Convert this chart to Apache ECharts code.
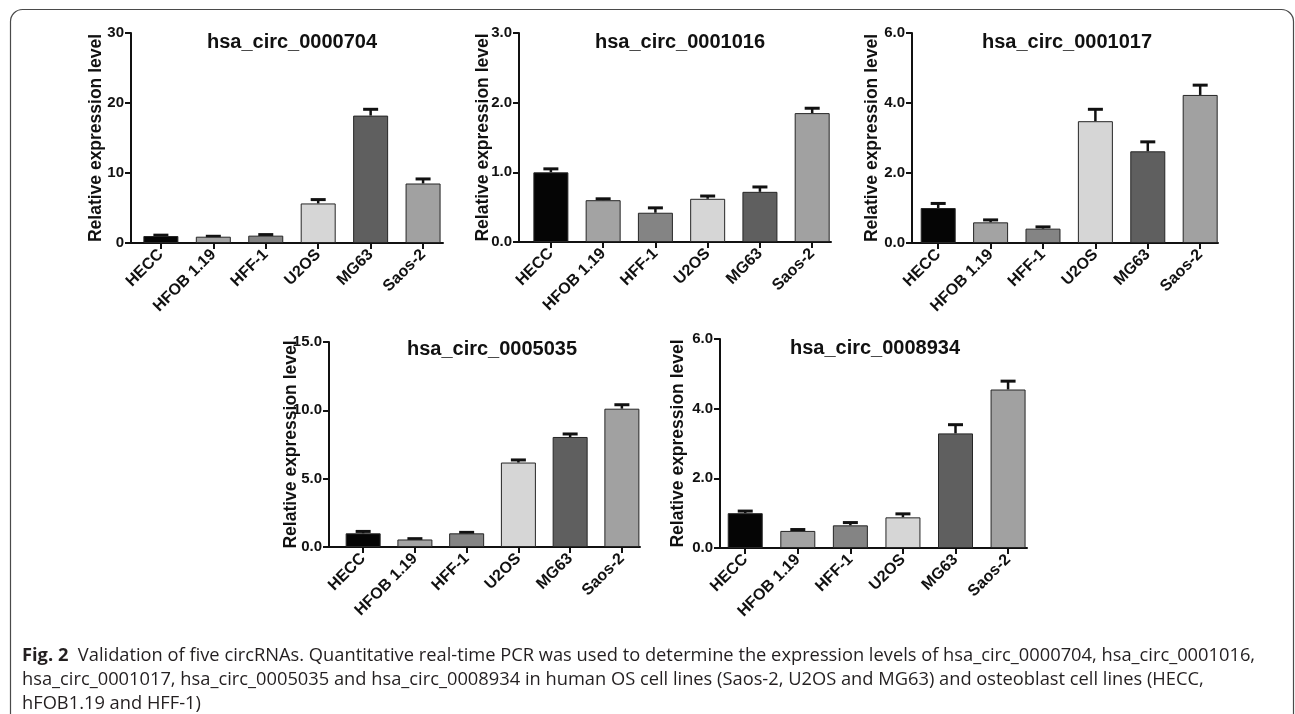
<!DOCTYPE html>
<html>
<head>
<meta charset="utf-8">
<script src="https://cdn.jsdelivr.net/npm/echarts@6/dist/echarts.min.js"></script>
<style>
  html, body { margin: 0; padding: 0; background: #fff; }
  #fig { width: 1295px; height: 714px; }
</style>
</head>
<body>
<div id="fig"></div>
<script>
// cell lines, shared by every panel
const cellLines = ['HECC', 'HFOB 1.19', 'HFF-1', 'U2OS', 'MG63', 'Saos-2'];
const barColors = ['#050505', '#a3a3a3', '#848484', '#d6d6d6', '#5f5f5f', '#a1a1a1'];

const panelNames = ['hsa_circ_0000704', 'hsa_circ_0001016', 'hsa_circ_0001017', 'hsa_circ_0005035', 'hsa_circ_0008934'];

// mean relative expression, per panel
const circ0000704 = [1.0, 0.9, 1.05, 5.65, 18.2, 8.5];
const circ0001016 = [1.0, 0.60, 0.42, 0.62, 0.72, 1.85];
const circ0001017 = [1.0, 0.59, 0.41, 3.48, 2.62, 4.23];
const circ0005035 = [1.0, 0.55, 1.0, 6.18, 8.05, 10.12];
const circ0008934 = [1.0, 0.49, 0.65, 0.88, 3.29, 4.55];

// upper error (SD), per panel
const err0000704 = [0.12, 0.06, 0.15, 0.55, 0.9, 0.65];
const err0001016 = [0.05, 0.02, 0.07, 0.04, 0.07, 0.07];
const err0001017 = [0.13, 0.07, 0.05, 0.34, 0.27, 0.28];
const err0005035 = [0.14, 0.06, 0.07, 0.19, 0.22, 0.29];
const err0008934 = [0.06, 0.04, 0.08, 0.10, 0.25, 0.24];

// y axis ranges / tick steps
const yMax = [30, 3, 6, 15, 6];
const yStep = [10, 1, 2, 5, 2];
const yDecimals = [0, 1, 1, 1, 1];

const means = [circ0000704, circ0001016, circ0001017, circ0005035, circ0008934];
const errs = [err0000704, err0001016, err0001017, err0005035, err0008934];

// layout of each panel (pixels)
const grids = [
  { left: 131, top: 33, width: 312, height: 210 },
  { left: 519, top: 33, width: 312, height: 209 },
  { left: 912, top: 33, width: 306, height: 210 },
  { left: 329, top: 342, width: 311, height: 205 },
  { left: 720, top: 339, width: 307, height: 209 }
];
const xRange = [[-0.57, 5.38], [-0.61, 5.36], [-0.5, 5.34], [-0.66, 5.35], [-0.48, 5.36]];
const nameGaps = [26, 27, 31, 29, 33];
const titlePos = [[292, 42], [680, 42], [1067, 42], [492, 349], [875, 348]];

const FONT = '"Liberation Sans", Arial, sans-serif';
const chart = echarts.init(document.getElementById('fig'));

const idx = [0, 1, 2, 3, 4, 5];
const option = {
  backgroundColor: '#fff',
  animation: false,
  grid: grids.map(g => Object.assign({ outerBoundsMode: 'none', containLabel: false }, g)),
  xAxis: grids.map((g, i) => ({
    type: 'value',
    gridIndex: i,
    min: xRange[i][0],
    max: xRange[i][1],
    splitLine: { show: false },
    axisLine: { show: true, onZero: false, lineStyle: { color: '#111', width: 2 } },
    axisTick: { show: true, customValues: idx, length: 6, lineStyle: { color: '#111', width: 2 } },
    axisLabel: {
      customValues: idx,
      formatter: v => cellLines[Math.round(v)],
      rotate: 45,
      margin: 9,
      color: '#111',
      fontFamily: FONT,
      fontWeight: 'bold',
      fontSize: 16
    }
  })),
  yAxis: grids.map((g, i) => ({
    type: 'value',
    gridIndex: i,
    min: 0,
    max: yMax[i],
    interval: yStep[i],
    splitLine: { show: false },
    axisLine: { show: true, onZero: false, lineStyle: { color: '#111', width: 2 } },
    axisTick: { show: true, length: 6, lineStyle: { color: '#111', width: 2 } },
    axisLabel: {
      formatter: v => v.toFixed(yDecimals[i]),
      color: '#111',
      margin: 7,
      fontFamily: FONT,
      fontWeight: 'bold',
      fontSize: 15
    },
    name: 'Relative expression level',
    nameLocation: 'middle',
    nameGap: nameGaps[i],
    nameMoveOverlap: false,
    nameTextStyle: { color: '#111', fontFamily: FONT, fontWeight: 'bold', fontSize: 17.5 }
  })),
  series: []
};

means.forEach((vals, i) => {
  option.series.push({
    type: 'bar',
    xAxisIndex: i,
    yAxisIndex: i,
    barWidth: 35,
    data: vals.map((v, j) => ({
      value: [j, v],
      itemStyle: { color: barColors[j], borderColor: '#262626', borderWidth: 1 }
    }))
  });
  option.series.push({
    type: 'custom',
    xAxisIndex: i,
    yAxisIndex: i,
    z: 1,
    encode: { x: 0, y: 2 },
    data: vals.map((v, j) => [j, v, v + errs[i][j]]),
    renderItem: (params, api) => {
      const x = api.value(0);
      const top = api.coord([x, api.value(2)]);
      const base = api.coord([x, api.value(1)]);
      return {
        type: 'group',
        children: [
          { type: 'line', shape: { x1: top[0], y1: top[1], x2: base[0], y2: base[1] },
            style: { stroke: '#111', lineWidth: 2.5 } },
          { type: 'line', shape: { x1: top[0] - 7.5, y1: top[1], x2: top[0] + 7.5, y2: top[1] },
            style: { stroke: '#111', lineWidth: 3 } }
        ]
      };
    }
  });
});

const graphics = [
  { type: 'rect', shape: { x: 10.5, y: 9.5, width: 1283, height: 780, r: 12 },
    style: { fill: 'none', stroke: '#4a4a4a', lineWidth: 1.2 }, silent: true }
];
panelNames.forEach((t, i) => {
  graphics.push({
    type: 'text', x: titlePos[i][0], y: titlePos[i][1],
    style: { text: t, align: 'center', verticalAlign: 'middle', fill: '#111',
      font: 'bold 20px ' + FONT }
  });
});
graphics.push({
  type: 'text', x: 22, y: 644,
  style: {
    text: '{b|Fig. 2}  Validation of five circRNAs. Quantitative real-time PCR was used to determine the expression levels of hsa_circ_0000704, hsa_circ_0001016,\n' +
      'hsa_circ_0001017, hsa_circ_0005035 and hsa_circ_0008934 in human OS cell lines (Saos-2, U2OS and MG63) and osteoblast cell lines (HECC,\n' +
      'hFOB1.19 and HFF-1)',
    font: '18.3px "Open Sans", sans-serif',
    lineHeight: 24,
    fill: '#231f20',
    verticalAlign: 'top',
    rich: {
      b: { fontFamily: '"Open Sans", sans-serif', fontSize: 18.3, fontWeight: 'bold', lineHeight: 24, fill: '#231f20' }
    }
  }
});
option.graphic = graphics;

chart.setOption(option);
</script>
</body>
</html>
